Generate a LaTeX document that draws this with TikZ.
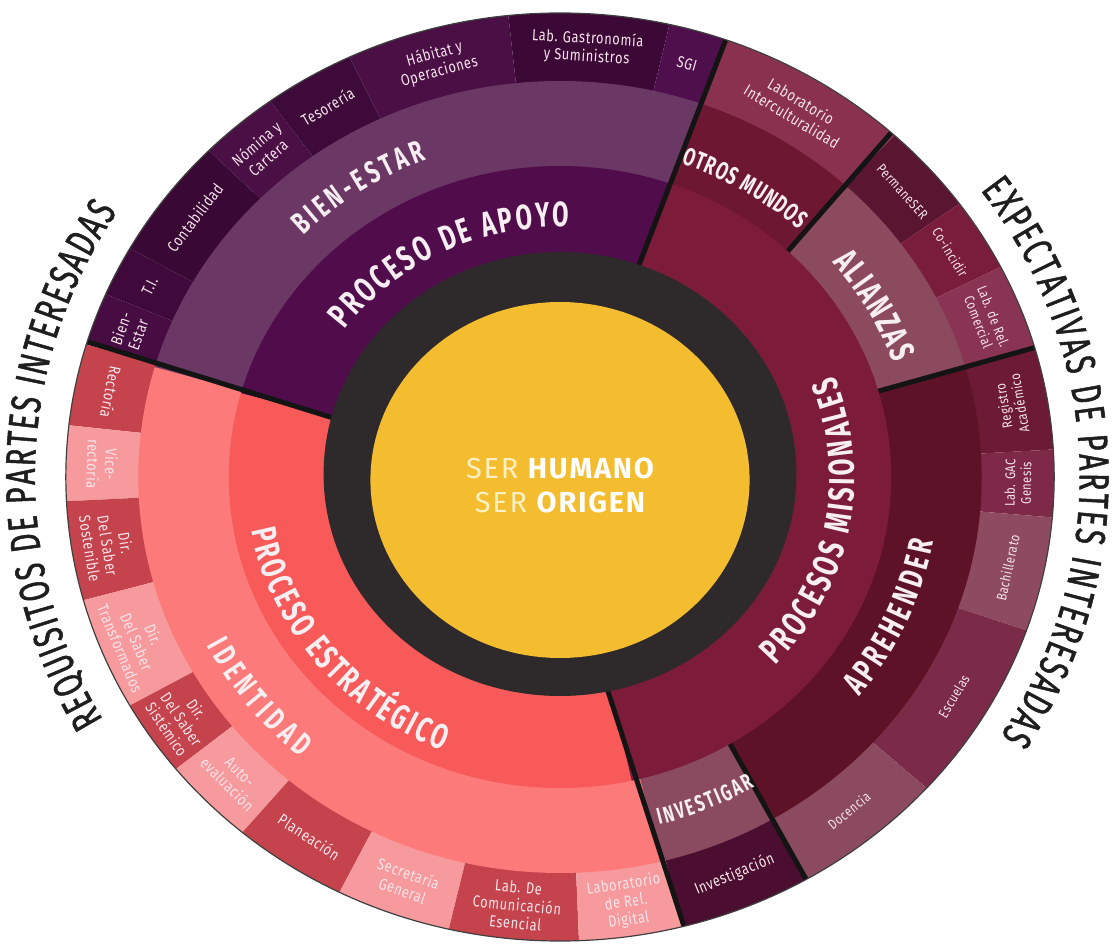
\documentclass[tikz,border=0pt]{standalone}
\usepackage{fontspec}
\setmainfont[FakeStretch=0.8]{Fira Sans}
\newfontfamily\labfont[FakeStretch=0.8,LetterSpace=4]{Fira Sans}
\newfontfamily\ttlfont[FakeStretch=0.68]{Fira Sans}
\newfontfamily\outfont[FakeStretch=0.68,FakeBold=1.2]{Fira Sans}
\newfontfamily\ctrfont[LetterSpace=6]{Fira Sans}
\usetikzlibrary{calc,decorations.text}
\definecolor{cyel}{HTML}{F4BD2F}
\definecolor{cdark}{HTML}{2E2A2B}
\definecolor{capoyo}{HTML}{500C4B}
\definecolor{cbien}{HTML}{6B3866}
\definecolor{cestr}{HTML}{F85A5A}
\definecolor{ciden}{HTML}{FC7A79}
\definecolor{crd}{HTML}{C5434C}
\definecolor{cpk}{HTML}{F79A9D}
\definecolor{cmisi}{HTML}{7D1B3A}
\definecolor{cotros}{HTML}{6E1733}
\definecolor{calia}{HTML}{8C4A5F}
\definecolor{capre}{HTML}{5E1228}
\definecolor{cinve}{HTML}{8A4B60}
\definecolor{mInter}{HTML}{8A3150}
\definecolor{mPerm}{HTML}{5A1530}
\definecolor{mCoin}{HTML}{7A1D3C}
\definecolor{mLabRel}{HTML}{8A3454}
\definecolor{mReg}{HTML}{6C1A35}
\definecolor{mGAC}{HTML}{7F2948}
\definecolor{mBach}{HTML}{8D4A60}
\definecolor{mEsc}{HTML}{7B2A48}
\definecolor{mDoc}{HTML}{8B4A5F}
\definecolor{mInv}{HTML}{4B0E30}
\definecolor{aBien}{HTML}{470D42}
\definecolor{aTI}{HTML}{3F0A3B}
\definecolor{aCont}{HTML}{3A0835}
\definecolor{aNom}{HTML}{4A1046}
\definecolor{aTes}{HTML}{3E0A39}
\definecolor{aHab}{HTML}{4A1046}
\definecolor{aLab}{HTML}{3C0937}
\definecolor{aSGI}{HTML}{4F0F4C}
\definecolor{ltxt}{HTML}{F6E4EA}
\definecolor{ttxt}{HTML}{F7EEF2}
\definecolor{sercol}{HTML}{FCEFC2}
\definecolor{otxt}{HTML}{1E1E1E}
\tikzset{
  lbl/.style={font=\labfont\fontsize{16}{18}\selectfont, text=ltxt, align=center, inner sep=0pt},
  lbs/.style={lbl, font=\labfont\fontsize{14}{16}\selectfont},
  sepline/.style={line width=5pt, draw=black!92},
}
\newcommand\wsec[3]{\fill[#1] (0,0) -- (#2:700) arc[start angle=#2,end angle=#3,radius=700pt] -- cycle;}
\newcommand\arctxt[6]{\path[decorate,decoration={text along path,text={|#4|#5},text align=fit to path,text color=#6}] (#1:#3) arc[start angle=#1,end angle=#2,radius=#3pt];}
\begin{document}
\begin{tikzpicture}[x=1pt,y=1pt]
\useasboundingbox (0,0) rectangle (1114,943);
\fill[white] (0,0) rectangle (1114,943);
\begin{scope}[shift={(560,466)}, xscale=1.065]
\coordinate (O) at (0,0);
% outer ring
\begin{scope}
\clip (0,0) circle [radius=464pt];
\wsec{aBien}{163.4}{156.8}
\wsec{aTI}{156.8}{150.5}
\wsec{aCont}{150.5}{135.3}
\wsec{aNom}{135.3}{125.9}
\wsec{aTes}{125.9}{115.2}
\wsec{aHab}{115.2}{96}
\wsec{aLab}{96}{77.2}
\wsec{aSGI}{77.2}{70.6}
\wsec{crd}{163.4}{173.6}
\wsec{cpk}{173.6}{183}
\wsec{crd}{183}{195.4}
\wsec{cpk}{195.4}{209.5}
\wsec{crd}{209.5}{219}
\wsec{cpk}{219}{230}
\wsec{crd}{230}{243.5}
\wsec{cpk}{243.5}{257}
\wsec{crd}{257}{272.2}
\wsec{cpk}{272.2}{284.5}
\wsec{mInter}{70.6}{47.4}
\wsec{mPerm}{47.4}{36.1}
\wsec{mCoin}{36.1}{26.9}
\wsec{mLabRel}{26.9}{16.1}
\wsec{mReg}{16.1}{3.4}
\wsec{mGAC}{3.4}{-5}
\wsec{mBach}{-5}{-19.3}
\wsec{mEsc}{-19.3}{-42.1}
\wsec{mDoc}{-42.1}{-59.8}
\wsec{mInv}{-59.8}{-75.5}
\end{scope}
% second ring
\begin{scope}
\clip (0,0) circle [radius=396pt];
\wsec{cbien}{163.9}{70.6}
\wsec{ciden}{163.9}{284}
\wsec{cotros}{70.6}{47}
\wsec{calia}{47}{16.1}
\wsec{capre}{16.1}{-59.4}
\wsec{cinve}{-59.4}{-76}
\end{scope}
% secondary separators
\begin{scope}
\clip (0,0) circle [radius=464pt];
\draw[sepline] (46.4:300) -- (48:480);
\draw[sepline] (16:300) -- (16.2:480);
\draw[sepline] (-59:300) -- (-60.2:480);
\end{scope}
% process ring
\begin{scope}
\clip (0,0) circle [radius=311pt];
\wsec{capoyo}{164.4}{70.6}
\wsec{cestr}{164.4}{282.5}
\wsec{cmisi}{70.6}{-77.5}
\end{scope}
% main separators
\begin{scope}
\clip (0,0) circle [radius=464pt];
\draw[sepline] (70.8:200) -- (70.4:480);
\draw[sepline] (-78.6:200) -- (-75.4:480);
\draw[sepline] (164.8:200) -- (163:480);
\end{scope}
\draw[line width=1.2pt, draw=black!75] (0,0) circle [radius=464pt];
% core
\fill[cdark] (0,3) circle [radius=222pt];
\fill[cyel] (0,-3) circle [radius=178pt];
% curved titles
\arctxt{144}{88}{250}{\ttlfont\bfseries\fontsize{35}{39}\selectfont}{PROCESO DE APOYO}{ttxt}
\arctxt{135}{111.5}{341}{\ttlfont\bfseries\fontsize{31}{35}\selectfont}{BIEN-ESTAR}{ttxt}
\arctxt{190.5}{248}{295}{\ttlfont\bfseries\fontsize{35}{39}\selectfont}{PROCESO ESTRATÉGICO}{ttxt}
\arctxt{207}{229}{372}{\ttlfont\bfseries\fontsize{32}{36}\selectfont}{IDENTIDAD}{ttxt}
\arctxt{-43}{21.5}{276.5}{\ttlfont\bfseries\fontsize{36}{40}\selectfont}{PROCESOS MISIONALES}{ttxt}
\arctxt{-38}{-10.5}{357}{\ttlfont\bfseries\fontsize{34}{38}\selectfont}{APREHENDER}{ttxt}
\arctxt{40}{20}{333.5}{\ttlfont\bfseries\fontsize{35}{39}\selectfont}{ALIANZAS}{ttxt}
\arctxt{70}{47.8}{333.5}{\ttlfont\bfseries\fontsize{25}{29}\selectfont}{OTROS MUNDOS}{ttxt}
\arctxt{-75}{-59.5}{360}{\ttlfont\bfseries\fontsize{23}{27}\selectfont}{INVESTIGAR}{ttxt}
\arctxt{209.5}{147.5}{493}{\outfont\fontsize{42}{46}\selectfont}{REQUISITOS DE PARTES INTERESADAS}{otxt}
\arctxt{36}{-32}{488}{\outfont\fontsize{42}{46}\selectfont}{EXPECTATIVAS DE PARTES INTERESADAS}{otxt}
% apoyo labels
\node[lbl, rotate=70.4] (bienestar) at (160.2:430) {Bien-\\Estar};
\node[lbl, rotate=63.6] (ti) at (153.6:430) {T.I.};
\node[lbl, rotate=52.9] (conta) at (142.9:430) {Contabilidad};
\node[lbl, rotate=40.6] (nomina) at (130.6:430) {Nómina y\\Cartera};
\node[lbl, rotate=30.5] (teso) at (120.5:430) {Tesorería};
\node[lbl, rotate=15.6] (habitat) at (105.6:430) {Hábitat y\\Operaciones};
\node[lbl, rotate=-3.4] (gastro) at (86.6:430) {Lab. Gastronomía\\y Suministros};
\node[lbl, rotate=-16.1] (sgi) at (73.9:430) {SGI};
% estrategico labels
\node[lbl, rotate=-101.2] (rect) at (168.6:430) {Rectoría};
\node[lbl, rotate=-91.7] (vice) at (178.3:430) {Vice-\\rectoría};
\node[lbl, rotate=-80.8] (sost) at (189.2:430) {Dir.\\Del Saber\\Sostenible};
\node[lbl, rotate=-67.5] (transf) at (202.5:430) {Dir.\\Del Saber\\Transformados};
\node[lbl, rotate=-55.7] (sist) at (214.3:430) {Dir.\\Del Saber\\Sistémico};
\node[lbl, rotate=-45.5] (auto) at (224.5:430) {Auto-\\evaluación};
\node[lbl, rotate=-33.2] (plan) at (236.8:430) {Planeación};
\node[lbl, rotate=-19.7] (secr) at (250.3:430) {Secretaría\\General};
\node[lbl, rotate=-5.4] (labcom) at (264.6:430) {Lab. De\\Comunicación\\Esencial};
\node[lbl, rotate=8.3] (labdig) at (278.3:430) {Laboratorio\\de Rel.\\Digital};
% misionales labels
\node[lbl, rotate=-31.1] (inter) at (58.9:430) {Laboratorio\\Interculturalidad};
\node[lbs, rotate=-48.3] (perm) at (41.6:430) {PermaneSER};
\node[lbs, rotate=-58.5] (coin) at (31.5:430) {Co-incidir};
\node[lbs, rotate=-68.5] (labrel) at (21.5:430) {Lab. de Rel.\\Comercial};
\node[lbs, rotate=99.7] (regis) at (9.7:430) {Registro\\Académico};
\node[lbs, rotate=89.2] (gac) at (-0.8:430) {Lab. GAC\\Genesis};
\node[lbs, rotate=77.8] (bach) at (-12.2:430) {Bachillerato};
\node[lbs, rotate=59.3] (escu) at (-30.7:430) {Escuelas};
\node[lbs, rotate=39.1] (doce) at (-50.9:430) {Docencia};
\node[lbl, rotate=22.4] (inves) at (-67.6:430) {Investigación};
% centre
\node[align=center, font=\ctrfont\fontsize{29}{34}\selectfont, inner sep=0pt] (ctr) at (0,-8)
  {\textcolor{sercol}{SER} \textbf{\textcolor{white}{HUMANO}}\\\textcolor{sercol}{SER} \textbf{\textcolor{white}{ORIGEN}}};
\end{scope}
\end{tikzpicture}
\end{document}
